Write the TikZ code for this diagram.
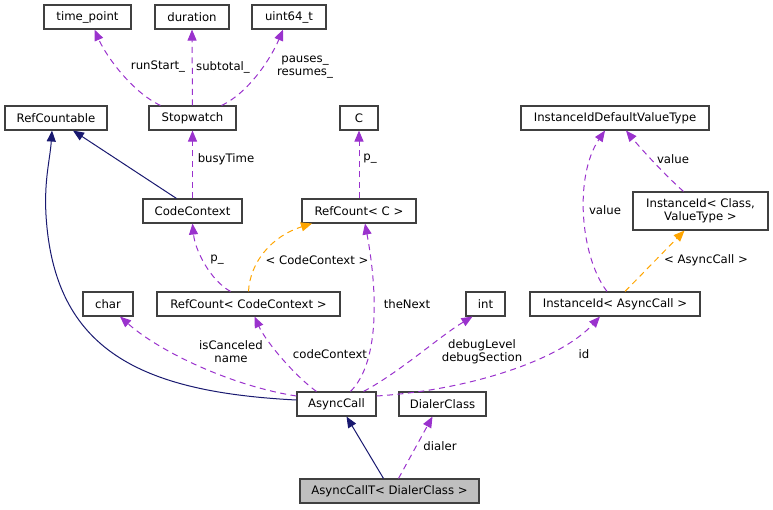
\documentclass[tikz,border=0pt]{standalone}
\usepackage{fontspec}
\setmainfont{DejaVu Sans}
\usetikzlibrary{arrows.meta}

\definecolor{usecol}{HTML}{9A32CD}
\definecolor{inhcol}{HTML}{191970}
\definecolor{tplcol}{HTML}{FFA500}
\definecolor{boxcol}{HTML}{404040}

\tikzset{
  cls/.style={draw=boxcol, line width=1.1pt, fill=white, minimum height=24pt,
    inner xsep=4pt, inner ysep=0pt, font=\fontsize{11.7}{13}\selectfont},
  usage/.style={draw=usecol, line width=1pt, dash pattern=on 6pt off 4.5pt,
    -{Triangle[length=11pt,width=9pt,fill=usecol]}},
  inherit/.style={draw=inhcol, line width=1pt,
    -{Triangle[length=11pt,width=9pt,fill=inhcol]}},
  tmpl/.style={draw=tplcol, line width=1pt, dash pattern=on 6pt off 4.5pt,
    -{Triangle[length=11pt,width=9pt,fill=tplcol]}},
  lbl/.style={inner sep=0pt, align=center, font=\fontsize{11.7}{13}\selectfont},
}

\begin{document}
\begin{tikzpicture}[x=1pt, y=-1pt]
	\useasboundingbox (0,0) rectangle (773,509);
	% classes
	\node[cls, minimum width=87pt] (timepoint) at (87.5,17) {time\_point};
	\node[cls, minimum width=74pt] (duration) at (192,17) {duration};
	\node[cls, minimum width=74pt] (uint) at (289,17) {uint64\_t};
	\node[cls, minimum width=102pt] (refcountable) at (56,118) {RefCountable};
	\node[cls, minimum width=87pt] (stopwatch) at (192.5,118) {Stopwatch};
	\node[cls, minimum width=38pt] (cc) at (359,118) {C};
	\node[cls, minimum width=188pt] (iddefault) at (615,118) {InstanceIdDefaultValueType};
	\node[cls, minimum width=99pt] (codecontext) at (192.5,211) {CodeContext};
	\node[cls, minimum width=114pt] (refcountc) at (359,211) {RefCount< C >};
	\node[cls, minimum width=135pt, minimum height=38pt, align=center] (instanceid) at (700.5,211) {InstanceId< Class,\\ValueType >};
	\node[cls, minimum width=50pt] (char) at (108,304) {char};
	\node[cls, minimum width=183pt] (refcountcc) at (248.5,304) {RefCount< CodeContext >};
	\node[cls, minimum width=39pt] (int) at (485.5,304) {int};
	\node[cls, minimum width=170pt] (instanceidac) at (615,304) {InstanceId< AsyncCall >};
	\node[cls, minimum width=79pt] (asynccall) at (336.5,404) {AsyncCall};
	\node[cls, minimum width=87pt] (dialer) at (442.5,404) {DialerClass};
	\node[cls, minimum width=179pt, fill={rgb,255:red,191;green,191;blue,191}] (asynccallt) at (389.5,491) {AsyncCallT< DialerClass >};

	% members of Stopwatch
	\draw[usage] ([xshift=-32pt]stopwatch.north) .. controls (132,92) and (106,56) .. ([xshift=7pt]timepoint.south);
	\draw[usage] (stopwatch.north) -- (duration.south);
	\draw[usage] ([xshift=29pt]stopwatch.north) .. controls (250,92) and (272,56) .. ([xshift=-6pt]uint.south);
	\node[lbl] (lrunstart) at (158,67) {runStart\_};
	\node[lbl] (lsubtotal) at (223,67) {subtotal\_};
	\node[lbl] (lpauses) at (305,67) {pauses\_\\resumes\_};

	% CodeContext, RefCount
	\draw[inherit] ([xshift=-16pt]codecontext.north) -- ([xshift=17pt]refcountable.south);
	\draw[usage] (codecontext.north) -- (stopwatch.south);
	\node[lbl] (lbusytime) at (226,159) {busyTime};
	\draw[usage] (refcountc.north) -- (cc.south);
	\node[lbl] (lpc) at (370,159) {p\_};
	\draw[usage] ([xshift=-18pt]refcountcc.north) .. controls (210,280) and (195,250) .. (codecontext.south);
	\node[lbl] (lpcc) at (217,260) {p\_};
	\draw[tmpl] (refcountcc.north) .. controls (250,262) and (272,236) .. ([xshift=-47pt]refcountc.south);
	\node[lbl] (lcodectx) at (317,260) {< CodeContext >};

	% AsyncCall
	\draw[inherit] ([yshift=4pt]asynccall.west) .. controls (140,392) and (54,350) .. (46,215)
		.. controls (44,180) and (50,160) .. ([xshift=-4pt]refcountable.south);
	\draw[usage] ([yshift=8pt]asynccall.west) .. controls (232,386) and (160,352) .. ([xshift=12pt]char.south);
	\draw[usage] ([xshift=-20pt]asynccall.north) .. controls (295,376) and (266,342) .. ([xshift=6pt]refcountcc.south);
	\draw[usage] ([xshift=14pt]asynccall.north) .. controls (382,360) and (376,282) .. ([xshift=6pt]refcountc.south);
	\draw[usage] ([xshift=27pt]asynccall.north) .. controls (400,372) and (440,336) .. ([xshift=-13pt]int.south);
	\draw[usage] ([yshift=8pt]asynccall.east) .. controls (470,390) and (560,360) .. ([xshift=-15pt]instanceidac.south);
	\node[lbl] (lcanceled) at (231,352) {isCanceled\\name};
	\node[lbl] (lcodecontext) at (330,354) {codeContext};
	\node[lbl] (lthenext) at (407,304) {theNext};
	\node[lbl] (ldebug) at (482,352) {debugLevel\\debugSection};
	\node[lbl] (lid) at (584,354) {id};

	% InstanceId
	\draw[usage] ([xshift=-8pt]instanceidac.north) .. controls (580,256) and (574,176) .. ([xshift=-10pt]iddefault.south);
	\node[lbl] (lvalue) at (605,210) {value};
	\draw[usage] ([xshift=-17pt]instanceid.north) .. controls (666,176) and (642,150) .. ([xshift=11pt]iddefault.south);
	\node[lbl] (lvalue2) at (673,159) {value};
	\draw[tmpl] ([xshift=10pt]instanceidac.north) -- ([xshift=-16pt]instanceid.south);
	\node[lbl] (lasync) at (706,260) {< AsyncCall >};

	% AsyncCallT
	\draw[inherit] ([xshift=-6pt]asynccallt.north) -- ([xshift=10pt]asynccall.south);
	\draw[usage] ([xshift=9pt]asynccallt.north) -- ([xshift=-10pt]dialer.south);
	\node[lbl] (ldialer) at (440,446) {dialer};
\end{tikzpicture}
\end{document}
